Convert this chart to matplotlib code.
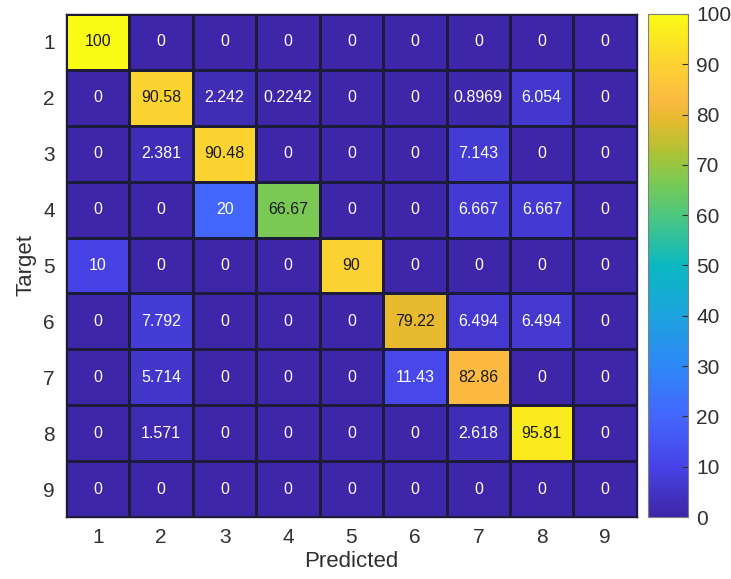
import matplotlib
matplotlib.use("Agg")
import matplotlib.pyplot as plt
import numpy as np
from matplotlib.colors import LinearSegmentedColormap

plt.rcParams['font.family'] = ['Liberation Sans', 'DejaVu Sans']

labels = ['1', '2', '3', '4', '5', '6', '7', '8', '9']
conf = np.array([
    [100, 0, 0, 0, 0, 0, 0, 0, 0],
    [0, 90.58, 2.242, 0.2242, 0, 0, 0.8969, 6.054, 0],
    [0, 2.381, 90.48, 0, 0, 0, 7.143, 0, 0],
    [0, 0, 20, 66.67, 0, 0, 6.667, 6.667, 0],
    [10, 0, 0, 0, 90, 0, 0, 0, 0],
    [0, 7.792, 0, 0, 0, 79.22, 6.494, 6.494, 0],
    [0, 5.714, 0, 0, 0, 11.43, 82.86, 0, 0],
    [0, 1.571, 0, 0, 0, 0, 2.618, 95.81, 0],
    [0, 0, 0, 0, 0, 0, 0, 0, 0],
])

# parula-like colormap
parula = LinearSegmentedColormap.from_list('parula', [
    (0.00, (0.2422, 0.1504, 0.6603)),
    (0.10, (0.2788, 0.2598, 0.9035)),
    (0.20, (0.2647, 0.4030, 0.9935)),
    (0.30, (0.1800, 0.5300, 0.9700)),
    (0.40, (0.1100, 0.6400, 0.8700)),
    (0.50, (0.0400, 0.7200, 0.7600)),
    (0.60, (0.3000, 0.7800, 0.5000)),
    (0.67, (0.4900, 0.7900, 0.3200)),
    (0.73, (0.7000, 0.7600, 0.2000)),
    (0.79, (0.9000, 0.7300, 0.1800)),
    (0.83, (0.9900, 0.7300, 0.2500)),
    (0.90, (0.9900, 0.8200, 0.2000)),
    (1.00, (0.9769, 0.9839, 0.0805)),
])

fig = plt.figure(figsize=(7.31, 5.79), dpi=100)
ax = fig.add_axes([0.0903, 0.107, 0.781, 0.869])
cax = fig.add_axes([0.887, 0.107, 0.054, 0.869])

n = len(labels)
edges = np.arange(n + 1) + 0.5
mesh = ax.pcolormesh(edges, edges, conf, cmap=parula, vmin=0, vmax=100,
                     edgecolors='#1c1c3a', linewidth=1.0)
ax.set_xlim(0.5, n + 0.5)
ax.set_ylim(n + 0.5, 0.5)
ax.set_xticks(np.arange(1, n + 1))
ax.set_yticks(np.arange(1, n + 1))
ax.set_xticklabels(labels)
ax.set_yticklabels(labels)
ax.tick_params(length=0, labelsize=15, colors='#303030', pad=8)
for s in ax.spines.values():
    s.set_color('#1c1c3a')
    s.set_linewidth(1.0)

for i in range(n):
    for j in range(n):
        v = conf[i, j]
        txt = f"{v:.4g}"
        ax.text(j + 1, i + 1, txt, ha='center', va='center', fontsize=11.5,
                color='#1a1a1a' if v > 50 else 'white')

ax.set_xlabel('Predicted', fontsize=16, color='#303030', labelpad=3)
ax.set_ylabel('Target', fontsize=16, color='#303030', labelpad=5)

cb = fig.colorbar(mesh, cax=cax, ticks=np.arange(0, 101, 10))
cb.outline.set_edgecolor('#7f7f7f')
cb.outline.set_linewidth(0.8)
cax.tick_params(direction='in', length=4, width=0.8, labelsize=15,
                colors='#303030', pad=6)

fig.savefig('out.png', dpi=100)
